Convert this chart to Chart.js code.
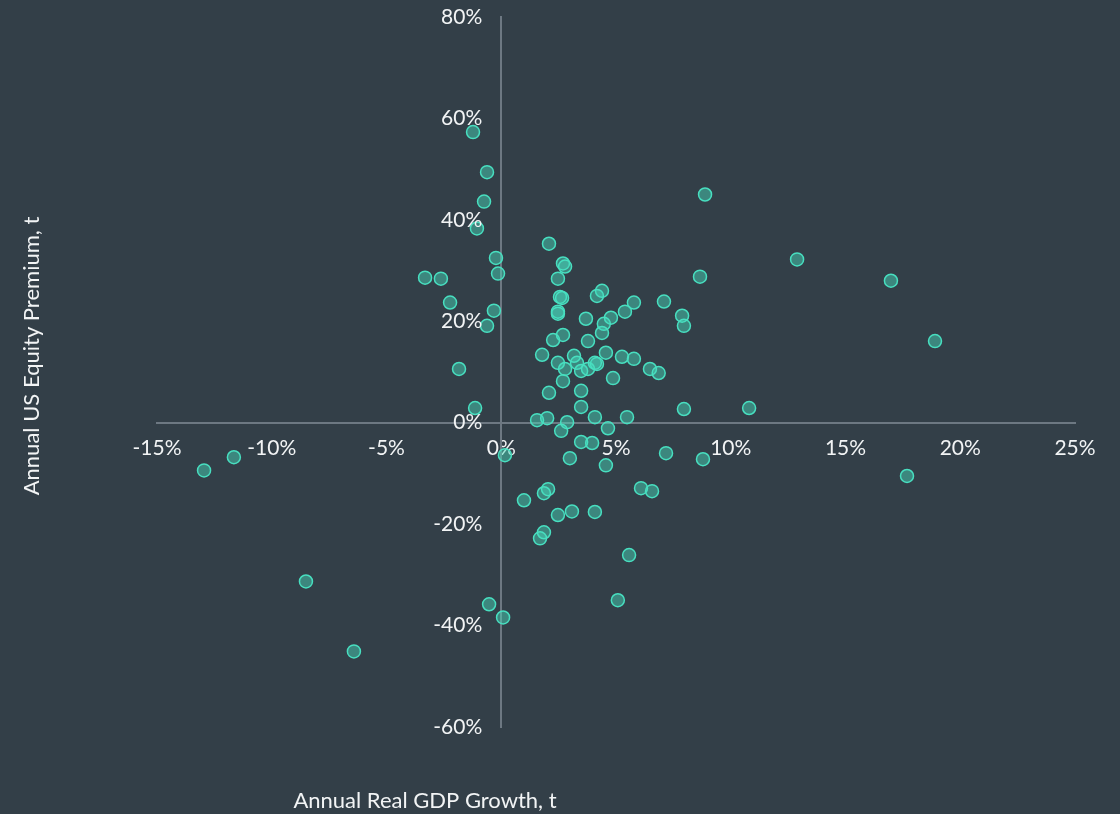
<!DOCTYPE html>
<html lang="en">
<head>
    <meta charset="UTF-8">
    <title>GDP Growth vs Equity Premium</title>
    <script src="https://cdn.jsdelivr.net/npm/chart.js"></script>
    <style>
        html, body {
            margin: 0;
            padding: 0;
            background-color: #333f48;
        }
        .chart-box {
            width: 1120px;
            height: 814px;
        }
    </style>
</head>
<body>

    <div class="chart-box">
        <canvas id="scatterChart"></canvas>
    </div>

    <script>
        // Annual real GDP growth (%) and annual US equity premium (%)
        const gdpGrowth = [
            -1.23, -0.62, -0.75, -1.06, -0.23, -0.14, -3.32, -2.63, -2.23, -0.32,
            -0.62, -1.84, -1.14, 0.16, -0.53, 0.08, -12.95, -11.65, -8.51, -6.42,
            2.08, 2.69, 2.78, 2.47, 2.56, 2.65, 2.47, 2.47, 3.69, 4.39,
            4.17, 5.78, 5.39, 4.78, 4.47, 4.39, 7.09, 7.88, 7.96, 8.66,
            8.88, 12.89, 16.98, 18.90, 2.69, 2.26, 3.78, 1.78, 3.17, 4.56,
            5.26, 5.78, 6.48, 6.86, 2.47, 2.78, 3.30, 3.48, 3.78, 4.08,
            4.17, 4.87, 2.69, 2.08, 3.48, 3.48, 1.56, 2.00, 2.87, 4.08,
            5.48, 4.65, 7.96, 2.61, 10.80, 3.48, 3.96, 2.99, 4.56, 7.18,
            8.79, 17.68, 6.09, 6.57, 2.04, 1.86, 0.99, 3.08, 2.47, 4.08,
            1.86, 1.69, 5.57, 5.08
        ];
        const equityPremium = [
            57.3, 49.4, 43.6, 38.3, 32.5, 29.4, 28.6, 28.4, 23.7, 22.1,
            19.1, 10.6, 2.9, -6.4, -35.8, -38.4, -9.4, -6.8, -31.3, -45.1,
            35.3, 31.4, 30.8, 28.4, 24.8, 24.6, 21.9, 21.5, 20.5, 26.0,
            25.0, 23.7, 21.9, 20.7, 19.5, 17.7, 23.9, 21.1, 19.1, 28.8,
            45.0, 32.2, 28.0, 16.1, 17.3, 16.3, 16.1, 13.4, 13.2, 13.8,
            13.0, 12.6, 10.6, 9.8, 11.8, 10.6, 11.8, 10.2, 10.6, 11.8,
            11.6, 8.8, 8.2, 5.9, 6.3, 3.1, 0.5, 0.9, 0.1, 1.1,
            1.1, -1.1, 2.7, -1.6, 2.9, -3.8, -4.0, -7.0, -8.4, -6.0,
            -7.2, -10.5, -12.9, -13.5, -13.1, -13.9, -15.3, -17.5, -18.2, -17.6,
            -21.6, -22.8, -26.1, -35.0
        ];

        const xTitle = 'Annual Real GDP Growth, t';
        const yTitle = 'Annual US Equity Premium, t';

        const points = gdpGrowth.map((x, i) => ({ x: x, y: equityPremium[i] }));

        const labelColor = '#f2f4f5';
        const axisColor = '#6d7882';
        const fontFamily = 'Lato, "Open Sans", sans-serif';
        const fontSize = 21;

        // Chart.js ignores tick padding on an axis placed at a value,
        // so the y tick labels and both axis titles are drawn here
        const axisText = {
            id: 'axisText',
            afterDraw(chart) {
                const ctx = chart.ctx;
                const xScale = chart.scales.x;
                const yScale = chart.scales.y;
                const axisX = xScale.getPixelForValue(0);

                ctx.save();
                ctx.fillStyle = labelColor;
                ctx.font = fontSize + 'px ' + fontFamily;

                // y tick labels, left of the vertical axis
                ctx.textAlign = 'right';
                ctx.textBaseline = 'middle';
                yScale.ticks.forEach(t => {
                    ctx.fillText(t.value + '%', axisX - 19, yScale.getPixelForValue(t.value));
                });

                // axis titles
                ctx.font = '22px ' + fontFamily;
                ctx.textAlign = 'center';
                ctx.fillText(xTitle, 425, 801);
                ctx.translate(32, 356);
                ctx.rotate(-Math.PI / 2);
                ctx.fillText(yTitle, 0, 0);
                ctx.restore();
            }
        };

        new Chart(document.getElementById('scatterChart'), {
            type: 'scatter',
            data: {
                datasets: [{
                    data: points,
                    backgroundColor: 'rgba(72, 220, 190, 0.46)',
                    borderColor: '#48dfc0',
                    borderWidth: 1.5,
                    pointRadius: 6.5,
                    pointHoverRadius: 6.5
                }]
            },
            options: {
                responsive: true,
                maintainAspectRatio: false,
                animation: false,
                events: [],
                layout: {
                    padding: { left: 157, right: 45, top: 17, bottom: 87 }
                },
                plugins: {
                    legend: { display: false },
                    tooltip: { enabled: false }
                },
                scales: {
                    x: {
                        type: 'linear',
                        position: { y: 0 },
                        min: -15,
                        max: 25,
                        grid: { display: false, drawTicks: false },
                        border: { display: true, color: axisColor, width: 2 },
                        ticks: {
                            stepSize: 5,
                            padding: 13,
                            color: labelColor,
                            font: { family: fontFamily, size: fontSize },
                            callback: (v) => v + '%'
                        }
                    },
                    y: {
                        type: 'linear',
                        position: { x: 0 },
                        min: -60,
                        max: 80,
                        grid: { display: false, drawTicks: false },
                        border: { display: true, color: axisColor, width: 2 },
                        ticks: {
                            display: false,
                            stepSize: 20
                        }
                    }
                }
            },
            plugins: [axisText]
        });
    </script>

</body>
</html>
